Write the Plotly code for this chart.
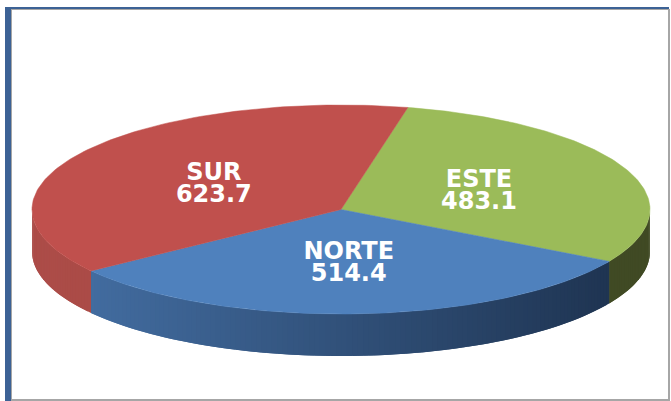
import numpy as np
import plotly.graph_objects as go

labels = ["ESTE", "NORTE", "SUR"]
values = [483.1, 514.4, 623.7]
top_colors = ["#9BBB59", "#4F81BD", "#C0504D"]
# side colour at the left-most and right-most x of the pie rim
side_left = [(64, 74, 36), (70, 114, 168), (172, 76, 72)]
side_right = [(64, 74, 36), (28, 48, 76), (160, 68, 62)]

START_ANGLE = 12.5
CX, CY, RX, RY, DEPTH = 341, 209.5, 309, 104.5, 42
W, H = 671, 401


def rim(deg):
    a = np.radians(deg)
    return CX + RX * np.sin(a), CY - RY * np.cos(a)


def rgb(c):
    return "rgb(%d,%d,%d)" % tuple(int(round(v)) for v in c)


fig = go.Figure()
total = sum(values)
spans = []
a = START_ANGLE
for v in values:
    spans.append((a, a + v / total * 360))
    a = spans[-1][1]

# side walls (front half of the rim only); each band runs under the next one
for (a0, a1), cl, cr in zip(spans, side_left, side_right):
    lo, hi = max(a0, 90), min(a1, 270)
    if hi <= lo:
        continue
    edges = np.linspace(lo, hi, max(2, int((hi - lo) / 1.0) + 1))
    step = edges[1] - edges[0]
    for e0 in edges[:-1]:
        arc = np.linspace(e0, min(e0 + 2 * step, hi), 5)
        x, y = rim(arc)
        xm, _ = rim(e0 + step / 2)
        t = (xm - (CX - RX)) / (2 * RX)
        col = rgb([l + (r - l) * t for l, r in zip(cl, cr)])
        fig.add_trace(go.Scatter(
            x=np.r_[x, x[::-1], x[0]],
            y=np.r_[y, y[::-1] + DEPTH, y[0]],
            mode="lines", fill="toself", fillcolor=col,
            line=dict(color=col, width=0), hoverinfo="skip"))

# top faces
for (a0, a1), col in zip(spans, top_colors):
    x, y = rim(np.linspace(a0, a1, 120))
    fig.add_trace(go.Scatter(
        x=np.r_[CX, x, CX], y=np.r_[CY, y, CY],
        mode="lines", fill="toself", fillcolor=col,
        line=dict(color=col, width=0.5), hoverinfo="skip"))

# data labels, two lines each, centred in their wedge
LINE = 11
for (a0, a1), lab, v in zip(spans, labels, values):
    m = np.radians((a0 + a1) / 2)
    lx = CX + 0.49 * RX * np.sin(m) - 0.5
    ly = CY - 0.49 * RY * np.cos(m) + 3.5
    fig.add_trace(go.Scatter(
        x=[lx, lx], y=[ly - LINE, ly + LINE], mode="text",
        text=[lab, f"{v:.1f}"], textposition="middle center",
        textfont=dict(family="DejaVu Sans", size=24, color="white", weight="bold"),
        hoverinfo="skip"))


def box(x0, y0, x1, y1, col):
    return dict(type="rect", xref="x", yref="y", x0=x0, y0=y0, x1=x1, y1=y1,
                fillcolor=col, line=dict(width=0), layer="above")


FRAME = "#3C6295"
GREY = "#A6A6A6"
fig.update_layout(
    width=W, height=H, showlegend=False,
    margin=dict(l=0, r=0, t=0, b=0), autosize=False,
    paper_bgcolor="white", plot_bgcolor="white",
    xaxis=dict(range=[0, W], visible=False, fixedrange=True),
    yaxis=dict(range=[H, 0], visible=False, fixedrange=True),
    shapes=[
        box(5, 7, 11, H, FRAME),
        box(5, 7, W - 2, 9, FRAME),
        box(11, 9, 12, H, GREY),
        box(11, 9, W - 2, 10, GREY),
        box(668, 9, 670, H, GREY),
        box(11, 399, 670, 401, GREY),
    ],
)
fig.write_html("out.html", config=dict(displayModeBar=False),
               post_script="document.body.style.margin='0';document.body.style.overflow='hidden';")
